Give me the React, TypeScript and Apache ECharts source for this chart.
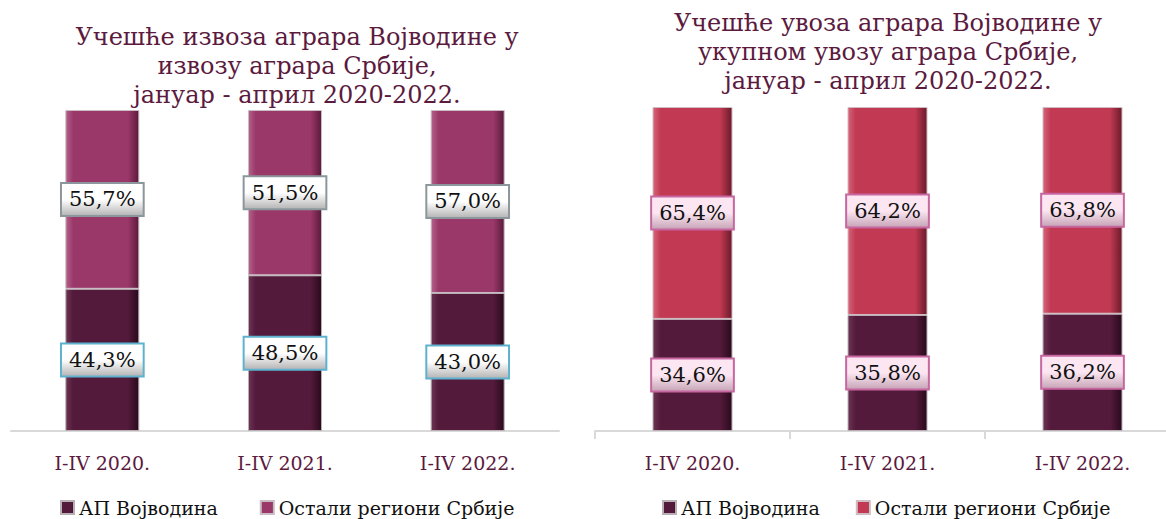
import React, { useEffect, useRef } from "react";
import * as echarts from "echarts";

const categories = ["I-IV 2020.", "I-IV 2021.", "I-IV 2022."];
const seriesNames = ["АП Војводина", "Остали региони Србије"];
const exportVojvodina = [44.3, 48.5, 43.0];
const exportOther = [55.7, 51.5, 57.0];
const importVojvodina = [34.6, 35.8, 36.2];
const importOther = [65.4, 64.2, 63.8];
const titleLeft = "Учешће извоза аграра Војводине у\nизвозу аграра Србије,\nјануар - април 2020-2022.";
const titleRight = "Учешће увоза аграра Војводине у\nукупном увозу аграра Србије,\nјануар - април 2020-2022.";

const FONT = "'DejaVu Serif', serif";

function barGrad(light: string, main: string, dark: string) {
  return new echarts.graphic.LinearGradient(0, 0, 1, 0, [
    { offset: 0, color: light },
    { offset: 0.1, color: main },
    { offset: 0.85, color: main },
    { offset: 1, color: dark },
  ]);
}

function fmt(p: any) {
  return (p.value as number).toFixed(1).replace(".", ",") + "%";
}

function labelStyle(bg0: string, bg1: string, border: string) {
  return {
    show: true,
    position: "inside",
    formatter: fmt,
    fontFamily: FONT,
    fontSize: 21,
    color: "#111",
    padding: [6, 7, 4, 7],
    borderWidth: 2,
    borderColor: border,
    backgroundColor: new echarts.graphic.LinearGradient(0, 0, 0, 1, [
      { offset: 0, color: bg0 },
      { offset: 0.5, color: bg0 },
      { offset: 1, color: bg1 },
    ]),
  };
}

const legendBase = {
  icon: "rect",
  itemWidth: 13,
  itemHeight: 13,
  padding: 0,
  top: 498,
  textStyle: { fontFamily: FONT, fontSize: 19, color: "#111" },
  selectedMode: false,
};

export default function App() {
  const ref = useRef<HTMLDivElement>(null);
  useEffect(() => {
    document.body.style.margin = "0";
    document.body.style.overflow = "hidden";
    document.documentElement.style.overflow = "hidden";
    const chart = echarts.init(ref.current!, undefined, { renderer: "svg" });
    const darkColor = barGrad("#6e3454", "#541a3b", "#2a0a1c");
    const magenta = barGrad("#b4628a", "#9b386a", "#5a1a3a");
    const crimson = barGrad("#d66478", "#c13952", "#6a1a2a");
    const darkColor2 = barGrad("#6e3454", "#541a3b", "#2a0a1c");
    const titleStyle = { fontFamily: FONT, fontSize: 24, fontWeight: "normal", color: "#5b1a3e", lineHeight: 29 };
    chart.setOption({
      animation: false,
      title: [
        { text: titleLeft, left: 297, top: 22, padding: 0, textAlign: "center", textStyle: titleStyle },
        { text: titleRight, left: 888, top: 8, padding: 0, textAlign: "center", textStyle: titleStyle },
      ],
      legend: [
        { ...legendBase, data: [seriesNames[0], seriesNames[1]], left: 60, itemGap: 42 },
        { ...legendBase, data: [seriesNames[0] + " ", seriesNames[1] + " "], left: 662, itemGap: 30 },
      ],
      grid: [
        { left: 11, width: 548, top: 110, height: 321 },
        { left: 595, width: 585, top: 107, height: 324 },
      ],
      xAxis: [
        {
          type: "category",
          gridIndex: 0,
          data: categories,
          axisLine: { lineStyle: { color: "#d9d9d9", width: 2 } },
          axisTick: { show: false },
          axisLabel: { fontFamily: FONT, fontSize: 19, color: "#5b1a3e", margin: 22 },
        },
        {
          type: "category",
          gridIndex: 1,
          data: categories,
          axisLine: { lineStyle: { color: "#d9d9d9", width: 2 } },
          axisTick: { show: true, length: 8, lineStyle: { color: "#d9d9d9", width: 2 } },
          axisLabel: { fontFamily: FONT, fontSize: 19, color: "#5b1a3e", margin: 22 },
        },
      ],
      yAxis: [
        { type: "value", gridIndex: 0, min: 0, max: 100, show: false },
        { type: "value", gridIndex: 1, min: 0, max: 100, show: false },
      ],
      series: [
        {
          name: seriesNames[0],
          type: "bar",
          stack: "a",
          xAxisIndex: 0,
          yAxisIndex: 0,
          barWidth: 74,
          data: exportVojvodina,
          itemStyle: { color: darkColor, borderColor: "#b9b0b6", borderWidth: 1 },
          label: labelStyle("#ffffff", "#b8b8b8", "#5eb2cf"),
        },
        {
          name: seriesNames[1],
          type: "bar",
          stack: "a",
          xAxisIndex: 0,
          yAxisIndex: 0,
          barWidth: 74,
          data: exportOther,
          itemStyle: { color: magenta, borderColor: "#c9bcc3", borderWidth: 1 },
          label: labelStyle("#ffffff", "#b8b8b8", "#8b979c"),
        },
        {
          name: seriesNames[0] + " ",
          type: "bar",
          stack: "b",
          xAxisIndex: 1,
          yAxisIndex: 1,
          barWidth: 80,
          data: importVojvodina,
          itemStyle: { color: darkColor2, borderColor: "#b9b0b6", borderWidth: 1 },
          label: labelStyle("#fbe6f1", "#c9a7b9", "#c766a0"),
        },
        {
          name: seriesNames[1] + " ",
          type: "bar",
          stack: "b",
          xAxisIndex: 1,
          yAxisIndex: 1,
          barWidth: 80,
          data: importOther,
          itemStyle: { color: crimson, borderColor: "#d0bcc3", borderWidth: 1 },
          label: labelStyle("#fbe6f1", "#c9a7b9", "#c766a0"),
        },
      ],
    });
    return () => chart.dispose();
  }, []);
  return <div ref={ref} style={{ width: 1190, height: 519 }} />;
}
